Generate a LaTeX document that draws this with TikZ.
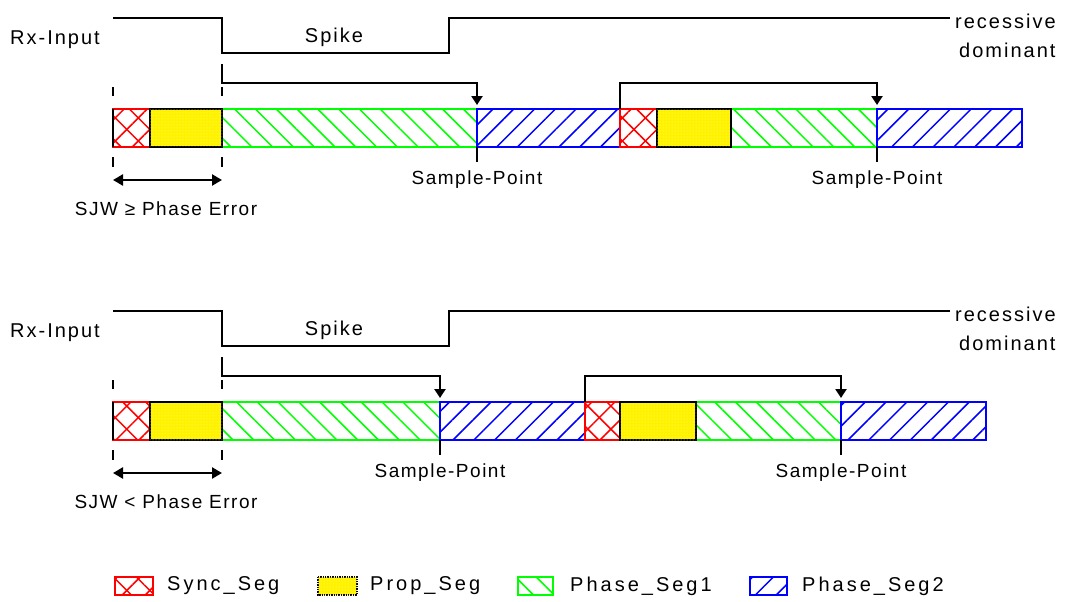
\documentclass[tikz,border=0pt]{standalone}
\usepackage{fontspec}
\setmainfont{Liberation Sans}
\newfontfamily\lblfont{Liberation Sans}[LetterSpace=10]
\newfontfamily\spfont{Liberation Sans}[LetterSpace=8]
\newfontfamily\legfont{Liberation Sans}[LetterSpace=15]
\usetikzlibrary{patterns.meta,arrows.meta}
\tikzset{
  sig/.style={line width=2.4pt, line join=miter},
  seg/.style={line width=2.4pt},
  syncseg/.style={seg, draw=red,
    preaction={pattern={Lines[angle=45,distance=16.3pt,line width=1.5pt]}, pattern color=red},
    preaction={pattern={Lines[angle=-45,distance=16.3pt,line width=1.5pt]}, pattern color=red}},
  propseg/.style={seg, draw=black, fill=yellow,
    postaction={pattern={Dots[distance=3pt,radius=0.5pt]}, pattern color=yellow!55!white}},
  ph1seg/.style={seg, draw=green,
    preaction={pattern={Lines[angle=-45,distance=14.7pt,line width=1.5pt]}, pattern color=green}},
  ph2seg/.style={seg, draw=blue,
    preaction={pattern={Lines[angle=45,distance=14.7pt,line width=1.5pt]}, pattern color=blue}},
  lbl/.style={font=\lblfont\fontsize{20}{24}\selectfont, inner sep=0pt},
  splbl/.style={font=\spfont\fontsize{19}{23}\selectfont, inner sep=0pt},
  leglbl/.style={font=\legfont\fontsize{20}{24}\selectfont, inner sep=0pt, anchor=west},
  conn/.style={line width=2.4pt, line join=miter, -{Triangle[length=9pt,width=11pt]}},
  dim/.style={line width=2.4pt, {Triangle[length=10pt,width=11pt]}-{Triangle[length=10pt,width=11pt]}},
}
\newcommand{\canrow}[8]{%
\begin{scope}[shift={(0,#1)}]
  \draw[sig] (113,18) -- (222,18) -- (222,53) -- (449,53) -- (449,18) -- (950,18);
  \node[lbl, anchor=west] (rx) at (10,40) {Rx-Input};
  \node[lbl] (spike) at (334,37) {Spike};
  \node[lbl, anchor=west] (rec) at (955,21) {recessive};
  \node[lbl, anchor=west] (dom) at (959,50) {dominant};
  \path[ph1seg] (222,109) rectangle (#2,147);
  \path[ph2seg] (#2,109) rectangle (#3,147);
  \path[ph1seg] (#5,109) rectangle (#6,147);
  \path[ph2seg] (#6,109) rectangle (#7,147);
  \path[syncseg] (113,109) rectangle (150,147);
  \path[syncseg] (#3,109) rectangle (#4,147);
  \path[propseg] (150,109) rectangle (222,147);
  \path[propseg] (#4,109) rectangle (#5,147);
  \draw[line width=2.4pt] (113,109) -- (113,147);
  \draw[line width=2.4pt] (113,87) -- (113,96) (113,157) -- (113,167);
  \draw[line width=2.4pt] (222,87) -- (222,96) (222,157) -- (222,167);
  \coordinate (edge) at (222,64);
  \coordinate (sp1) at (#2,105);
  \coordinate (sync2) at (#3,109);
  \coordinate (sp2) at (#6,105);
  \draw[conn] (edge) -- (222,83) -| (sp1);
  \draw[conn] (sync2) -- (#3,83) -| (sp2);
  \draw[line width=2.4pt] (#2,147) -- (#2,162);
  \draw[line width=2.4pt] (#6,147) -- (#6,162);
  \node[splbl] (spa) at (#2,180) {Sample-Point};
  \node[splbl] (spb) at (#6,180) {Sample-Point};
  \coordinate (sjwl) at (113,180);
  \coordinate (sjwr) at (222,180);
  \draw[dim] (sjwl) -- (sjwr);
  \node[splbl] (sjw) at (166,209) {SJW #8 Phase Error};
\end{scope}}
\begin{document}
\begin{tikzpicture}[x=1pt,y=-1pt]
  \useasboundingbox (0,0) rectangle (1068,602);
  \canrow{0}{477}{620}{657}{731}{877}{1022}{≥}
  \canrow{293}{440}{585}{620}{696}{841}{986}{<}
  % legend
  \path[syncseg, line width=1.8pt] (115,577) rectangle (153,595);
  \node[leglbl] (l1) at (167,586) {Sync\_Seg};
  \path[propseg, line width=1.4pt, densely dotted] (318,577) rectangle (357,595);
  \node[leglbl] (l2) at (370,586) {Prop\_Seg};
  \path[ph1seg, line width=1.8pt] (518,577) rectangle (553,595);
  \node[leglbl] (l3) at (570,586) {Phase\_Seg1};
  \path[ph2seg, line width=1.8pt] (750,577) rectangle (787,595);
  \node[leglbl] (l4) at (802,586) {Phase\_Seg2};
\end{tikzpicture}
\end{document}
